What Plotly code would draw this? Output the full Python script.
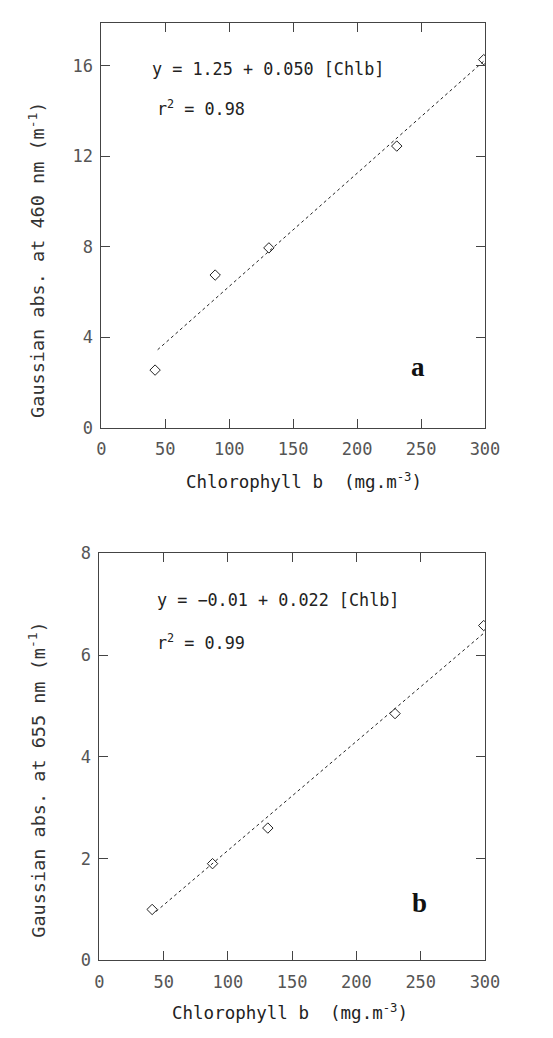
import plotly.graph_objects as go

# ---- data ----
chlb_a = [42, 89, 131, 231, 299]
abs460 = [2.55, 6.75, 7.95, 12.45, 16.27]
fit_a_x = [44, 300]
fit_a_y = [3.45, 16.25]

chlb_b = [41, 88, 131, 230, 299]
abs655 = [1.0, 1.9, 2.6, 4.85, 6.58]
fit_b_x = [44, 300]
fit_b_y = [0.96, 6.45]

x_ticks = [0, 50, 100, 150, 200, 250, 300]
y_ticks_a = [0, 4, 8, 12, 16]
y_ticks_b = [0, 2, 4, 6, 8]

eq_a = "y = 1.25 + 0.050 [Chlb]"
r2_a = "r<sup>2</sup> = 0.98"
eq_b = "y = −0.01 + 0.022 [Chlb]"
r2_b = "r<sup>2</sup> = 0.99"
xtitle = "Chlorophyll b\u00a0\u00a0(mg.m<sup>-3</sup>)"
ytitle_a = "Gaussian abs. at 460 nm (m<sup>-1</sup>)"
ytitle_b = "Gaussian abs. at 655 nm (m<sup>-1</sup>)"

W, H = 553, 1038
MONO = "DejaVu Sans Mono"
INK = "#222222"
TICKC = "#555555"

fig = go.Figure()

# panel a
fig.add_trace(go.Scatter(x=fit_a_x, y=fit_a_y, mode="lines",
                         line=dict(color=INK, width=1, dash="dot"),
                         xaxis="x", yaxis="y", showlegend=False))
fig.add_trace(go.Scatter(x=chlb_a, y=abs460, mode="markers",
                         marker=dict(symbol="diamond-open", size=8, color=INK,
                                     line=dict(width=1, color=INK)),
                         xaxis="x", yaxis="y", showlegend=False))
# panel b
fig.add_trace(go.Scatter(x=fit_b_x, y=fit_b_y, mode="lines",
                         line=dict(color=INK, width=1, dash="dot"),
                         xaxis="x2", yaxis="y2", showlegend=False))
fig.add_trace(go.Scatter(x=chlb_b, y=abs655, mode="markers",
                         marker=dict(symbol="diamond-open", size=8, color=INK,
                                     line=dict(width=1, color=INK)),
                         xaxis="x2", yaxis="y2", showlegend=False))

def px_x(p):
    return p / W

def px_y(p):
    return 1 - p / H

axis_common = dict(showline=True, linecolor="#444444", linewidth=1,
                   mirror="ticks", ticks="inside", ticklen=9, tickwidth=1,
                   tickcolor="#444444", showgrid=False, zeroline=False,
                   tickfont=dict(family=MONO, size=17, color=TICKC))

fig.update_layout(
    width=W, height=H,
    margin=dict(l=0, r=0, t=0, b=0),
    paper_bgcolor="white", plot_bgcolor="white",
    xaxis=dict(domain=[px_x(100), px_x(498)], range=[0, 300],
               tickvals=x_ticks, anchor="y", ticklabelstandoff=6, **axis_common),
    yaxis=dict(domain=[px_y(426), px_y(13)], range=[0, 17.9],
               tickvals=y_ticks_a, anchor="x", ticklabelstandoff=4, **axis_common),
    xaxis2=dict(domain=[px_x(98), px_x(498)], range=[0, 300],
                tickvals=x_ticks, anchor="y2", ticklabelstandoff=6, **axis_common),
    yaxis2=dict(domain=[px_y(969), px_y(554)], range=[0, 8],
                tickvals=y_ticks_b, anchor="x2", ticklabelstandoff=4, **axis_common),
)

ann_font = dict(family=MONO, size=16.8, color=INK)
annotations = [
    dict(text=eq_a, x=px_x(150), y=px_y(60), xref="paper", yref="paper",
         xanchor="left", yanchor="middle", showarrow=False, font=ann_font),
    dict(text=r2_a, x=px_x(156), y=px_y(100), xref="paper", yref="paper",
         xanchor="left", yanchor="middle", showarrow=False, font=ann_font),
    dict(text=eq_b, x=px_x(156), y=px_y(602), xref="paper", yref="paper",
         xanchor="left", yanchor="middle", showarrow=False, font=ann_font),
    dict(text=r2_b, x=px_x(156), y=px_y(644), xref="paper", yref="paper",
         xanchor="left", yanchor="middle", showarrow=False, font=ann_font),
    dict(text="<b>a</b>", x=px_x(428), y=px_y(364), xref="paper", yref="paper",
         xanchor="center", yanchor="middle", showarrow=False,
         font=dict(family="Liberation Serif", size=27, color="#111111")),
    dict(text="<b>b</b>", x=px_x(430), y=px_y(911), xref="paper", yref="paper",
         xanchor="center", yanchor="middle", showarrow=False,
         font=dict(family="Liberation Serif", size=27, color="#111111")),
    dict(text=xtitle, x=px_x(310), y=px_y(480), xref="paper", yref="paper",
         xanchor="center", yanchor="middle", showarrow=False,
         font=dict(family=MONO, size=17.5, color=INK)),
    dict(text=xtitle, x=px_x(296), y=px_y(1022), xref="paper", yref="paper",
         xanchor="center", yanchor="middle", showarrow=False,
         font=dict(family=MONO, size=17.5, color=INK)),
    dict(text=ytitle_a, x=px_x(33), y=px_y(255), xref="paper", yref="paper",
         xanchor="center", yanchor="middle", showarrow=False, textangle=-90,
         font=dict(family=MONO, size=18.5, color="#333333")),
    dict(text=ytitle_b, x=px_x(33), y=px_y(785), xref="paper", yref="paper",
         xanchor="center", yanchor="middle", showarrow=False, textangle=-90,
         font=dict(family=MONO, size=18.5, color="#333333")),
]
fig.update_layout(annotations=annotations)

fig.write_html("out.html")
